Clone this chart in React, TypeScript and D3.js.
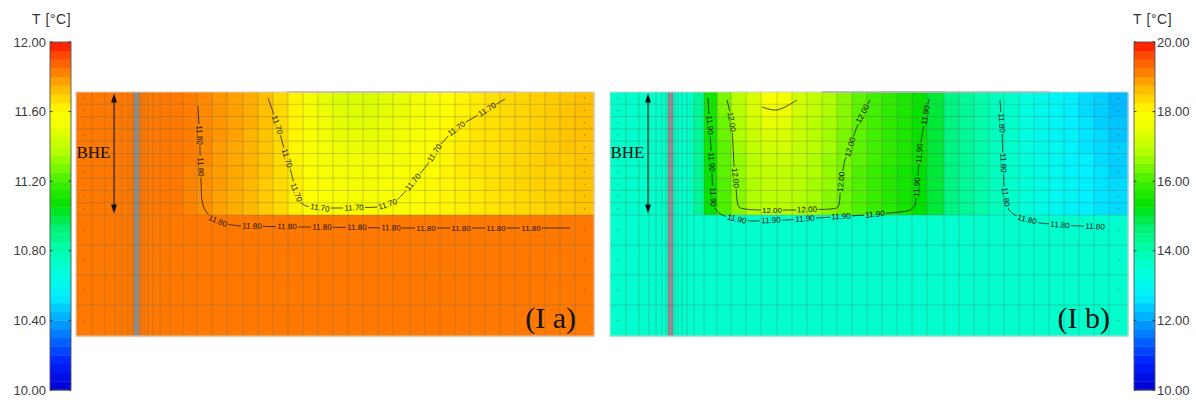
import React from 'react';
import * as d3 from 'd3';

type P = [number, number];

// ---------- mesh (model metres) ----------
const xEdges = [0, 1.6, 2.9, 3.9, 4.6, 5.2, 5.6, 5.8, 6.3, 6.5, 6.8, 7.2, 7.7, 8.4, 9.4, 10.7, 12.1, 13.6, 15.1, 16.7, 18.2, 19.7, 21.2, 22.7, 24.2, 25.7, 27.2, 28.7, 30.2, 31.7, 33.4, 34.9, 36.4, 37.9, 39.4, 40.9, 42.4, 43.9, 45.4, 46.9, 48.4, 49.9, 51.8];
const zEdges = [0, 1.23, 2.46, 3.69, 4.92, 6.15, 7.38, 8.61, 9.84, 11.07, 12.3, 15.3, 18.3, 21.3, 24.4];
const bheX: P = [5.8, 6.3];
const bheDepth = 12.3;
const bheArrowX = 3.8;

// ---------- temperatures, panel (I a) ----------
const tempRowsA: number[][] = [
  [11.84,11.84,11.84,11.84,11.84,11.84,11.84,11.84,11.84,11.84,11.84,11.84,11.84,11.84,11.84,11.83,11.81,11.79,11.77,11.75,11.72,11.67,11.62,11.55,11.50,11.47,11.46,11.46,11.48,11.50,11.53,11.56,11.60,11.62,11.64,11.66,11.67,11.68,11.69,11.70,11.71,11.72],
  [11.84,11.84,11.84,11.84,11.84,11.84,11.84,11.84,11.84,11.84,11.84,11.84,11.84,11.84,11.84,11.83,11.81,11.79,11.77,11.75,11.72,11.67,11.62,11.56,11.51,11.48,11.47,11.47,11.49,11.51,11.54,11.57,11.60,11.62,11.64,11.66,11.67,11.68,11.69,11.70,11.71,11.72],
  [11.84,11.84,11.84,11.84,11.84,11.84,11.84,11.84,11.84,11.84,11.84,11.84,11.84,11.84,11.84,11.83,11.81,11.79,11.77,11.75,11.72,11.67,11.62,11.56,11.52,11.49,11.48,11.48,11.50,11.52,11.55,11.58,11.61,11.63,11.65,11.66,11.67,11.68,11.69,11.70,11.71,11.72],
  [11.84,11.84,11.84,11.84,11.84,11.84,11.84,11.84,11.84,11.84,11.84,11.84,11.84,11.84,11.84,11.83,11.81,11.79,11.77,11.74,11.71,11.67,11.62,11.57,11.53,11.50,11.50,11.50,11.51,11.53,11.56,11.59,11.61,11.63,11.65,11.66,11.67,11.68,11.69,11.70,11.71,11.72],
  [11.84,11.84,11.84,11.84,11.84,11.84,11.84,11.84,11.84,11.84,11.84,11.84,11.84,11.84,11.84,11.83,11.81,11.78,11.76,11.74,11.71,11.67,11.62,11.57,11.54,11.52,11.51,11.51,11.52,11.54,11.57,11.59,11.62,11.64,11.65,11.66,11.67,11.68,11.69,11.70,11.71,11.71],
  [11.84,11.84,11.84,11.84,11.84,11.84,11.84,11.84,11.84,11.84,11.84,11.84,11.84,11.84,11.84,11.83,11.81,11.78,11.76,11.74,11.71,11.67,11.62,11.58,11.55,11.53,11.53,11.53,11.54,11.55,11.58,11.60,11.62,11.64,11.65,11.66,11.67,11.68,11.69,11.70,11.70,11.71],
  [11.84,11.84,11.84,11.84,11.84,11.84,11.84,11.84,11.84,11.84,11.84,11.84,11.84,11.84,11.84,11.82,11.80,11.78,11.76,11.74,11.71,11.67,11.63,11.59,11.56,11.55,11.54,11.54,11.55,11.56,11.58,11.60,11.62,11.64,11.65,11.66,11.67,11.68,11.69,11.69,11.70,11.71],
  [11.84,11.84,11.84,11.84,11.84,11.84,11.84,11.84,11.84,11.84,11.84,11.84,11.84,11.84,11.84,11.82,11.80,11.78,11.76,11.73,11.70,11.67,11.63,11.59,11.57,11.56,11.55,11.55,11.56,11.57,11.59,11.61,11.62,11.63,11.64,11.66,11.67,11.68,11.69,11.69,11.70,11.71],
  [11.84,11.84,11.84,11.84,11.84,11.84,11.84,11.84,11.84,11.84,11.84,11.84,11.84,11.84,11.84,11.82,11.80,11.77,11.75,11.73,11.70,11.67,11.63,11.60,11.58,11.57,11.56,11.56,11.57,11.58,11.59,11.61,11.62,11.63,11.64,11.65,11.66,11.67,11.68,11.69,11.70,11.71],
  [11.84,11.84,11.84,11.84,11.84,11.84,11.84,11.84,11.84,11.84,11.84,11.84,11.84,11.84,11.84,11.82,11.80,11.77,11.75,11.73,11.70,11.67,11.63,11.60,11.58,11.57,11.57,11.57,11.57,11.58,11.59,11.61,11.62,11.63,11.64,11.65,11.66,11.67,11.68,11.69,11.70,11.71],
  [11.84,11.84,11.84,11.84,11.84,11.84,11.84,11.84,11.84,11.84,11.84,11.84,11.84,11.84,11.84,11.84,11.84,11.84,11.84,11.84,11.84,11.84,11.84,11.84,11.84,11.84,11.84,11.84,11.84,11.84,11.84,11.84,11.84,11.84,11.84,11.84,11.84,11.84,11.84,11.84,11.84,11.84],
  [11.84,11.84,11.84,11.84,11.84,11.84,11.84,11.84,11.84,11.84,11.84,11.84,11.84,11.84,11.84,11.84,11.84,11.84,11.84,11.84,11.84,11.84,11.84,11.84,11.84,11.84,11.84,11.84,11.84,11.84,11.84,11.84,11.84,11.84,11.84,11.84,11.84,11.84,11.84,11.84,11.84,11.84],
  [11.84,11.84,11.84,11.84,11.84,11.84,11.84,11.84,11.84,11.84,11.84,11.84,11.84,11.84,11.84,11.84,11.84,11.84,11.84,11.84,11.84,11.84,11.84,11.84,11.84,11.84,11.84,11.84,11.84,11.84,11.84,11.84,11.84,11.84,11.84,11.84,11.84,11.84,11.84,11.84,11.84,11.84],
  [11.84,11.84,11.84,11.84,11.84,11.84,11.84,11.84,11.84,11.84,11.84,11.84,11.84,11.84,11.84,11.84,11.84,11.84,11.84,11.84,11.84,11.84,11.84,11.84,11.84,11.84,11.84,11.84,11.84,11.84,11.84,11.84,11.84,11.84,11.84,11.84,11.84,11.84,11.84,11.84,11.84,11.84],
];

// ---------- temperatures, panel (I b) ----------
const tempRowsB: number[][] = [
  [13.62,13.62,13.62,13.62,13.62,13.62,13.62,13.62,13.62,13.62,13.62,13.62,13.70,14.30,15.5,16.4,16.9,17.3,17.8,17.7,17.2,17.0,16.8,16.5,16.2,16.0,15.8,15.6,15.4,15.0,14.5,14.3,14.1,13.8,13.6,13.3,13.1,12.9,12.7,12.5,12.4,12.2],
  [13.62,13.62,13.62,13.62,13.62,13.62,13.62,13.62,13.62,13.62,13.62,13.62,13.70,14.30,15.5,16.4,16.9,17.3,17.7,17.6,17.2,17.0,16.8,16.5,16.2,16.0,15.8,15.6,15.4,15.0,14.5,14.3,14.1,13.8,13.6,13.3,13.1,12.9,12.7,12.5,12.4,12.2],
  [13.62,13.62,13.62,13.62,13.62,13.62,13.62,13.62,13.62,13.62,13.62,13.62,13.70,14.30,15.5,16.3,16.8,17.2,17.5,17.4,17.1,16.9,16.7,16.5,16.2,16.0,15.8,15.6,15.4,15.0,14.5,14.3,14.1,13.8,13.6,13.3,13.1,12.9,12.7,12.6,12.4,12.3],
  [13.62,13.62,13.62,13.62,13.62,13.62,13.62,13.62,13.62,13.62,13.62,13.62,13.70,14.30,15.5,16.3,16.8,17.1,17.3,17.3,17.1,16.9,16.7,16.4,16.2,16.0,15.8,15.6,15.4,15.0,14.5,14.3,14.1,13.8,13.6,13.3,13.1,12.9,12.8,12.6,12.5,12.3],
  [13.62,13.62,13.62,13.62,13.62,13.62,13.62,13.62,13.62,13.62,13.62,13.62,13.70,14.30,15.5,16.2,16.7,17.0,17.2,17.2,17.0,16.9,16.7,16.4,16.2,16.0,15.8,15.6,15.4,15.0,14.5,14.3,14.1,13.8,13.6,13.3,13.1,13.0,12.8,12.6,12.5,12.4],
  [13.62,13.62,13.62,13.62,13.62,13.62,13.62,13.62,13.62,13.62,13.62,13.62,13.70,14.30,15.4,16.2,16.6,16.9,17.1,17.1,17.0,16.8,16.6,16.4,16.2,16.0,15.8,15.6,15.4,15.0,14.5,14.3,14.1,13.8,13.6,13.4,13.2,13.0,12.8,12.7,12.5,12.4],
  [13.62,13.62,13.62,13.62,13.62,13.62,13.62,13.62,13.62,13.62,13.62,13.62,13.70,14.30,15.4,16.2,16.6,16.9,17.0,17.0,16.9,16.8,16.6,16.4,16.1,15.9,15.7,15.5,15.3,15.0,14.5,14.3,14.1,13.8,13.6,13.4,13.2,13.0,12.8,12.7,12.6,12.4],
  [13.62,13.62,13.62,13.62,13.62,13.62,13.62,13.62,13.62,13.62,13.62,13.62,13.70,14.30,15.4,16.1,16.5,16.8,17.0,17.0,16.9,16.7,16.6,16.3,16.1,15.9,15.7,15.5,15.3,15.0,14.5,14.3,14.1,13.8,13.6,13.4,13.2,13.0,12.9,12.7,12.6,12.5],
  [13.62,13.62,13.62,13.62,13.62,13.62,13.62,13.62,13.62,13.62,13.62,13.62,13.70,14.30,15.4,16.1,16.5,16.8,16.9,16.9,16.8,16.7,16.5,16.3,16.1,15.9,15.7,15.5,15.3,15.0,14.5,14.3,14.1,13.8,13.6,13.4,13.2,13.0,12.9,12.7,12.6,12.5],
  [13.62,13.62,13.62,13.62,13.62,13.62,13.62,13.62,13.62,13.62,13.62,13.62,13.70,14.30,15.4,16.1,16.5,16.8,16.9,16.9,16.8,16.7,16.5,16.3,16.1,15.9,15.7,15.5,15.3,15.0,14.5,14.3,14.1,13.8,13.6,13.4,13.2,13.0,12.8,12.7,12.6,12.5],
  [13.58,13.58,13.58,13.58,13.58,13.58,13.58,13.58,13.58,13.58,13.58,13.58,13.58,13.58,13.58,13.58,13.58,13.58,13.58,13.58,13.58,13.58,13.58,13.58,13.58,13.58,13.58,13.58,13.58,13.58,13.58,13.58,13.58,13.58,13.58,13.58,13.58,13.58,13.58,13.58,13.58,13.58],
  [13.58,13.58,13.58,13.58,13.58,13.58,13.58,13.58,13.58,13.58,13.58,13.58,13.58,13.58,13.58,13.58,13.58,13.58,13.58,13.58,13.58,13.58,13.58,13.58,13.58,13.58,13.58,13.58,13.58,13.58,13.58,13.58,13.58,13.58,13.58,13.58,13.58,13.58,13.58,13.58,13.58,13.58],
  [13.58,13.58,13.58,13.58,13.58,13.58,13.58,13.58,13.58,13.58,13.58,13.58,13.58,13.58,13.58,13.58,13.58,13.58,13.58,13.58,13.58,13.58,13.58,13.58,13.58,13.58,13.58,13.58,13.58,13.58,13.58,13.58,13.58,13.58,13.58,13.58,13.58,13.58,13.58,13.58,13.58,13.58],
  [13.58,13.58,13.58,13.58,13.58,13.58,13.58,13.58,13.58,13.58,13.58,13.58,13.58,13.58,13.58,13.58,13.58,13.58,13.58,13.58,13.58,13.58,13.58,13.58,13.58,13.58,13.58,13.58,13.58,13.58,13.58,13.58,13.58,13.58,13.58,13.58,13.58,13.58,13.58,13.58,13.58,13.58],
];

// ---------- colour map ----------
const colorFracs = [0, 0.08, 0.18, 0.27, 0.33, 0.40, 0.47, 0.53, 0.60, 0.68, 0.76, 0.80, 0.86, 0.92, 0.97, 1.0];
const colorHex = ['#0000d0', '#0020ff', '#0090ff', '#00f0ff', '#00ffe0', '#00ffb0', '#00f070', '#00e000', '#40f000', '#b0ff00', '#f0ff00', '#ffff00', '#ffc000', '#ff7800', '#ff4000', '#ff1000'];

const rangeA: P = [10, 12];
const rangeB: P = [10, 20];
const ticksA = [12, 11.6, 11.2, 10.8, 10.4, 10];
const ticksB = [20, 18, 16, 14, 12, 10];

// ---------- contour lines [x m, depth m] ----------
interface Contour { value: number; points: P[]; labels: P[] }

const contoursA: Contour[] = [
  {
    value: 11.8,
    points: [[12.2, 1.4], [12.3, 3.3], [12.4, 5.8], [12.5, 8.8], [12.6, 10.8], [12.8, 11.6], [13.2, 12.2], [13.9, 12.8], [14.9, 13.2], [16.4, 13.4], [22.4, 13.5], [32.4, 13.6], [42.4, 13.6], [49.4, 13.6]],
    labels: [[12.4, 4.3], [12.5, 7.5], [14.3, 12.6], [17.6, 13.45], [21.1, 13.5], [24.6, 13.5], [28.1, 13.55], [31.5, 13.55], [35.0, 13.6], [38.5, 13.6], [42.0, 13.6], [45.5, 13.6]],
  },
  {
    value: 11.7,
    points: [[19.2, 0.6], [19.7, 2.0], [20.3, 3.8], [20.9, 6.0], [21.5, 8.0], [22.0, 10.0], [22.4, 11.0], [23.0, 11.4], [24.4, 11.6], [27.4, 11.6], [30.4, 11.5], [31.9, 11.0], [32.9, 10.0], [33.9, 8.8], [35.1, 7.3], [36.4, 5.3], [37.6, 4.0], [39.0, 3.0], [40.4, 2.2], [41.9, 1.3], [42.9, 0.7]],
    labels: [[20.1, 3.3], [21.2, 6.6], [22.1, 10.0], [24.4, 11.5], [27.8, 11.5], [31.2, 11.3], [33.8, 9.1], [35.7, 6.0], [38.3, 4.0], [41.2, 1.9]],
  },
];

const contoursB: Contour[] = [
  {
    value: 11.9,
    points: [[9.8, 0.6], [9.9, 2.3], [10.0, 3.8], [10.1, 5.8], [10.2, 8.3], [10.3, 10.8], [10.5, 11.6], [10.9, 12.1], [11.7, 12.5], [13.0, 12.8], [14.3, 12.9], [17.7, 12.8], [22.3, 12.5], [25.7, 12.3], [29.0, 12.0], [30.0, 11.8], [30.5, 11.3], [30.7, 9.8], [30.8, 8.3], [31.0, 5.5], [31.3, 3.8], [31.6, 2.1], [31.9, 0.7]],
    labels: [[10.1, 3.3], [10.2, 7.0], [10.3, 10.5], [12.7, 12.6], [16.1, 12.9], [19.5, 12.8], [23.1, 12.5], [26.5, 12.3], [30.6, 9.5], [30.8, 6.1], [31.5, 2.3]],
  },
  {
    value: 12.0,
    points: [[11.7, 0.8], [12.0, 2.0], [12.2, 3.3], [12.3, 5.3], [12.4, 7.3], [12.6, 9.3], [12.7, 10.8], [12.9, 11.5], [13.5, 11.7], [15.0, 11.8], [19.0, 11.8], [22.0, 11.7], [22.8, 11.5], [23.0, 10.3], [23.2, 8.3], [23.5, 6.8], [24.0, 5.6], [24.5, 4.0], [25.2, 2.3], [26.0, 0.8]],
    labels: [[12.1, 3.0], [12.5, 8.6], [16.2, 11.7], [19.7, 11.7], [23.3, 9.0], [24.0, 5.5], [25.3, 2.2]],
  },
  {
    value: 12.1,
    points: [[15.2, 1.5], [16.7, 1.8], [18.7, 0.8]],
    labels: [],
  },
  {
    value: 11.8,
    points: [[39.0, 0.8], [39.1, 2.3], [39.2, 3.8], [39.3, 6.8], [39.4, 9.3], [39.6, 10.8], [39.9, 11.8], [40.5, 12.3], [41.5, 12.7], [43.0, 13.1], [45.0, 13.3], [47.0, 13.4], [49.5, 13.5]],
    labels: [[39.2, 3.1], [39.3, 7.1], [39.6, 10.5], [41.7, 12.8], [45.0, 13.3], [48.5, 13.5]],
  },
];

// top-surface segments [x start, x end] and colours
const surfaceA: { x: P; c: string }[] = [{ x: [21.1, 33.2], c: '#c48ccc' }, { x: [33.2, 43.9], c: '#c8a8c0' }];
const surfaceB: { x: P; c: string }[] = [{ x: [21.2, 33.4], c: '#9484b4' }, { x: [33.4, 44.0], c: '#9aa0aa' }];

// ---------- helpers ----------
const FONT = "'Liberation Sans', Arial, Helvetica, sans-serif";
const SERIF = "'Liberation Serif', 'Times New Roman', serif";

function makeColor(lo: number, hi: number) {
  return d3
    .scaleLinear<string>()
    .domain(colorFracs.map((f) => lo + f * (hi - lo)))
    .range(colorHex)
    .interpolate(d3.interpolateRgb)
    .clamp(true);
}

function contourMarks(c: Contour, xs: d3.ScaleLinear<number, number>, zs: d3.ScaleLinear<number, number>, key: string) {
  const pts: P[] = c.points.map(([x, z]) => [xs(x), zs(z)]);
  const cum = [0];
  for (let i = 1; i < pts.length; i++) cum.push(cum[i - 1] + Math.hypot(pts[i][0] - pts[i - 1][0], pts[i][1] - pts[i - 1][1]));
  const total = cum[cum.length - 1];
  const at = (s0: number) => {
    const s = Math.max(0, Math.min(total, s0));
    let i = 0;
    while (i < pts.length - 2 && cum[i + 1] < s) i++;
    const seg = cum[i + 1] - cum[i] || 1;
    const t = (s - cum[i]) / seg;
    const dx = pts[i + 1][0] - pts[i][0];
    const dy = pts[i + 1][1] - pts[i][1];
    return { x: pts[i][0] + t * dx, y: pts[i][1] + t * dy, a: (Math.atan2(dy, dx) * 180) / Math.PI };
  };
  const proj = (p: P) => {
    let best = Infinity;
    let bs = 0;
    for (let i = 0; i < pts.length - 1; i++) {
      const [ax, ay] = pts[i];
      const dx = pts[i + 1][0] - ax;
      const dy = pts[i + 1][1] - ay;
      const l2 = dx * dx + dy * dy || 1;
      let t = ((p[0] - ax) * dx + (p[1] - ay) * dy) / l2;
      t = Math.max(0, Math.min(1, t));
      const d = Math.hypot(ax + t * dx - p[0], ay + t * dy - p[1]);
      if (d < best) {
        best = d;
        bs = cum[i] + t * Math.sqrt(l2);
      }
    }
    return bs;
  };
  const labelS = c.labels.map((l) => proj([xs(l[0]), zs(l[1])])).sort((a, b) => a - b);
  const half = 11;
  const pieces: P[][] = [];
  const piece = (s0: number, s1: number) => {
    const a = at(s0);
    const b = at(s1);
    const arr: P[] = [[a.x, a.y]];
    for (let i = 0; i < pts.length; i++) if (cum[i] > s0 && cum[i] < s1) arr.push(pts[i]);
    arr.push([b.x, b.y]);
    pieces.push(arr);
  };
  let start = 0;
  for (const s of labelS) {
    if (s - half > start) piece(start, s - half);
    start = s + half;
  }
  if (start < total) piece(start, total);
  const line = d3.line<P>().curve(d3.curveCatmullRom.alpha(0.5));
  return (
    <g key={key}>
      {pieces.map((pc, i) => (
        <path key={i} d={line(pc) || ''} fill="none" stroke="#1a1a1a" strokeWidth={0.8} />
      ))}
      {labelS.map((s, i) => {
        const p = at(s);
        let a = p.a;
        if (a > 90) a -= 180;
        if (a < -90) a += 180;
        return (
          <text
            key={'t' + i}
            transform={`translate(${p.x},${p.y}) rotate(${a})`}
            textAnchor="middle"
            dominantBaseline="central"
            fontFamily={FONT}
            fontSize={8}
            fill="#111"
          >
            {c.value.toFixed(2)}
          </text>
        );
      })}
    </g>
  );
}

interface PanelProps {
  left: number;
  right: number;
  rows: number[][];
  range: P;
  contours: Contour[];
  bheFill: string;
  tag: string;
  surface: { x: P; c: string }[];
}

function Panel({ left, right, rows, range, contours, bheFill, tag, surface }: PanelProps) {
  const top = 92;
  const bottom = 336;
  const xs = d3.scaleLinear().domain([xEdges[0], xEdges[xEdges.length - 1]]).range([left, right]);
  const zs = d3.scaleLinear().domain([zEdges[0], zEdges[zEdges.length - 1]]).range([top, bottom]);
  const color = makeColor(range[0], range[1]);
  const nCols = xEdges.length - 1;
  const arrowX = xs(bheArrowX);
  const aTop = zs(0.15);
  const aBot = zs(bheDepth - 0.15);
  return (
    <g>
      {rows.map((row, r) =>
        row.map((v, c) => (
          <rect
            key={`${r}-${c}`}
            x={xs(xEdges[c])}
            y={zs(zEdges[r])}
            width={xs(xEdges[c + 1]) - xs(xEdges[c]) + 0.5}
            height={zs(zEdges[r + 1]) - zs(zEdges[r]) + 0.5}
            fill={color(v)}
          />
        ))
      )}
      <rect x={xs(bheX[0])} y={top} width={xs(bheX[1]) - xs(bheX[0])} height={bottom - top} fill={bheFill} />
      {xEdges.slice(1, -1).map((x, i) => (
        <line key={'v' + i} x1={xs(x)} x2={xs(x)} y1={top} y2={bottom} stroke="rgba(95,95,95,0.45)" strokeWidth={0.7} />
      ))}
      {zEdges.slice(1, -1).map((z, i) => (
        <line key={'h' + i} x1={left} x2={right} y1={zs(z)} y2={zs(z)} stroke="rgba(95,95,95,0.45)" strokeWidth={0.7} />
      ))}
      {zEdges.slice(0, -1).map((z, i) => {
        const cy = zs((z + zEdges[i + 1]) / 2);
        return (
          <g key={'d' + i}>
            <circle cx={xs((xEdges[0] + xEdges[1]) / 2)} cy={cy} r={0.8} fill="#4e6e4e" opacity={0.7} />
            <circle cx={xs((xEdges[nCols - 1] + xEdges[nCols]) / 2)} cy={cy} r={0.8} fill="#4e6e4e" opacity={0.7} />
          </g>
        );
      })}
      {surface.map((s, i) => (
        <line key={'s' + i} x1={xs(s.x[0])} x2={xs(s.x[1])} y1={top} y2={top} stroke={s.c} strokeWidth={1.6} />
      ))}
      {contours.map((c, i) => contourMarks(c, xs, zs, 'c' + i))}
      <line x1={arrowX} x2={arrowX} y1={aTop + 4} y2={aBot - 4} stroke="#111" strokeWidth={1} />
      <path d={`M${arrowX},${aTop} L${arrowX - 3},${aTop + 9} L${arrowX + 3},${aTop + 9} Z`} fill="#111" />
      <path d={`M${arrowX},${aBot} L${arrowX - 3},${aBot - 9} L${arrowX + 3},${aBot - 9} Z`} fill="#111" />
      <text x={left + 0.5} y={zs(6.6)} fontFamily={SERIF} fontSize={17} fill="#111">
        BHE
      </text>
      <text x={right - 18} y={zs(23.6)} textAnchor="end" fontFamily={SERIF} fontSize={30} fill="#111">
        {tag}
      </text>
      <rect x={left} y={top} width={right - left} height={bottom - top} fill="none" stroke="#cfcfcf" strokeWidth={1} />
    </g>
  );
}

interface BarProps {
  x: number;
  range: P;
  ticks: number[];
  side: 'left' | 'right';
}

function ColorBar({ x, range, ticks, side }: BarProps) {
  const top = 42;
  const bottom = 390;
  const w = 21;
  const ys = d3.scaleLinear().domain(range).range([bottom, top]);
  const color = makeColor(range[0], range[1]);
  const bands = d3.range(40).map((i) => range[0] + ((i + 0.5) / 40) * (range[1] - range[0]));
  const step = (range[1] - range[0]) / 40;
  return (
    <g>
      {bands.map((v, i) => (
        <rect key={i} x={x} y={ys(v + step / 2)} width={w} height={ys(v - step / 2) - ys(v + step / 2) + 0.4} fill={color(v)} />
      ))}
      <rect x={x} y={top} width={w} height={bottom - top} fill="none" stroke="#555" strokeWidth={0.9} />
      {ticks.map((t, i) => (
        <g key={i}>
          <line x1={x} x2={x + 2.5} y1={ys(t)} y2={ys(t)} stroke="#333" strokeWidth={1} />
          <line x1={x + w - 2.5} x2={x + w} y1={ys(t)} y2={ys(t)} stroke="#333" strokeWidth={1} />
          <text
            x={side === 'left' ? x - 4 : x + w + 2}
            y={ys(t)}
            dy="0.36em"
            textAnchor={side === 'left' ? 'end' : 'start'}
            fontFamily={FONT}
            fontSize={13}
            fill="#3a3a3a"
          >
            {t.toFixed(2)}
          </text>
        </g>
      ))}
      <text x={side === 'left' ? x - 18 : x - 1} y={24} fontFamily={FONT} fontSize={14} letterSpacing={0.6} fill="#333">
        T [°C]
      </text>
    </g>
  );
}

export default function App() {
  return (
    <svg
      width={1196}
      height={400}
      viewBox="0 0 1196 400"
      style={{ position: 'absolute', left: 0, top: 0, display: 'block', background: '#fff' }}
    >
      <ColorBar x={50} range={rangeA} ticks={ticksA} side="left" />
      <ColorBar x={1134} range={rangeB} ticks={ticksB} side="right" />
      <Panel left={76} right={594} rows={tempRowsA} range={rangeA} contours={contoursA} bheFill="#8c8c8c" tag="(I a)" surface={surfaceA} />
      <Panel left={610} right={1128} rows={tempRowsB} range={rangeB} contours={contoursB} bheFill="#9a8a90" tag="(I b)" surface={surfaceB} />
    </svg>
  );
}
